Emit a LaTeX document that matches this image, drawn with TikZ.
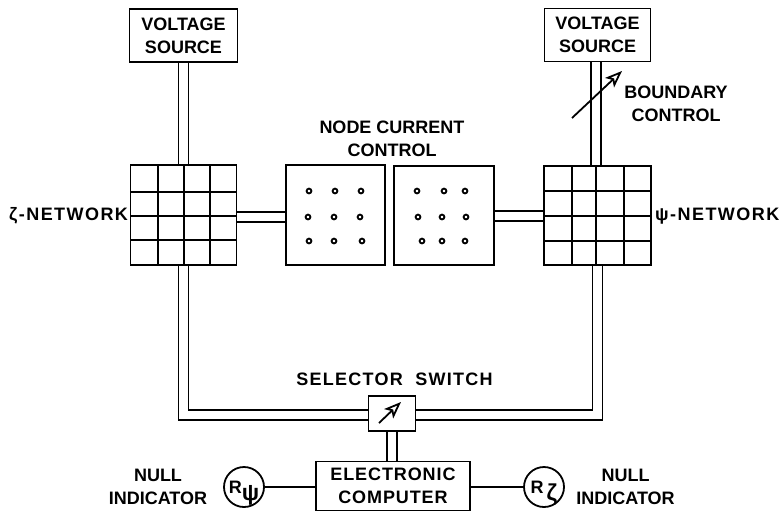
\documentclass[tikz,border=0pt]{standalone}
\usepackage{fontspec}
\setmainfont{Liberation Sans}
\usetikzlibrary{arrows.meta}
\tikzset{block/.style={draw,line width=1.8pt,inner sep=0pt,align=center,font=\labelfont}}
\tikzset{label/.style={inner sep=0pt,align=center,font=\labelfont}}
\tikzset{bus/.style={double,double distance=8.2pt,line width=1.8pt}}
\tikzset{wire/.style={line width=1.8pt}}
\tikzset{pointer/.style={line width=1.8pt,-{Stealth[open,length=17pt,width=13pt,inset=4pt]}}}
\tikzset{meter/.style={draw,circle,line width=1.8pt,inner sep=0pt,minimum size=40pt,font=\labelfont}}
\newcommand{\labelfont}{\fontsize{18}{23}\selectfont\bfseries}
\newcommand{\greekdrop}[1]{\smash{\raisebox{-7pt}{\fontsize{23}{23}\selectfont #1}}}

\begin{document}
\begin{tikzpicture}[x=1pt,y=-1pt]
	\useasboundingbox (0,0) rectangle (781,512);

	% Blocks
	\node [block,minimum width=108pt,minimum height=53pt] (lsource) at (183.5,35.5) {VOLTAGE\\SOURCE};
	\node [block,minimum width=106pt,minimum height=53pt] (rsource) at (597.5,35) {VOLTAGE\\SOURCE};
	\node [block,minimum width=106pt,minimum height=100pt] (znet) at (183.5,215) {};
	\node [block,minimum width=107pt,minimum height=99pt] (pnet) at (597.5,215.5) {};
	\node [block,minimum width=99pt,minimum height=100pt] (lcontrol) at (335.5,215) {};
	\node [block,minimum width=100pt,minimum height=99pt] (rcontrol) at (444,215.5) {};
	\node [block,minimum width=47pt,minimum height=35pt] (switch) at (392,413.5) {};
	\node [block,minimum width=154pt,minimum height=49pt] (computer) at (393,486) {\addfontfeatures{LetterSpace=5}ELECTRONIC\\\addfontfeatures{LetterSpace=5}COMPUTER};
	\node [meter] (rpsi) at (244,487) {R\greekdrop{ψ}};
	\node [meter] (rzeta) at (544,487) {R\,\greekdrop{ζ}};

	% Grids of the two networks
	\foreach \x in {158,184,210}
		\draw [wire] (\x,165) -- (\x,265);
	\foreach \y in {192,216,240}
		\draw [wire] (131,\y) -- (237,\y);
	\foreach \x in {572,596,624}
		\draw [wire] (\x,166) -- (\x,265);
	\foreach \y in {191,216,241}
		\draw [wire] (544,\y) -- (651,\y);

	% Current nodes
	\foreach \x/\y in {309/191,335/191,361/191,308/217,334/217,360/217,309/241,334/241,362/241,
		417/191,444/191,465/191,418/217,442/217,466/217,422/241,442/241,465/241}
		\draw [line width=1.8pt] (\x,\y) circle (2.4);

	% Double lines
	\draw [bus] (lsource.south) -- (znet.north);
	\draw [bus] ([xshift=-1.5pt]rsource.south) -- ([xshift=-1.5pt]pnet.north);
	\draw [bus] ([yshift=-2pt]znet.east) -- ([yshift=-2pt]znet.east -| lcontrol.west);
	\draw [bus] ([yshift=-0.5pt]rcontrol.east) -- ([yshift=-0.5pt]rcontrol.east -| pnet.west);
	\draw [bus] (znet.south) |- ([yshift=-1.5pt]switch.west);
	\draw [bus] (pnet.south) |- ([yshift=-1.5pt]switch.east);
	\draw [bus] (switch.south) -- (switch.south |- computer.north);

	% Indicators
	\draw [wire] (rpsi) -- (rpsi -| computer.west);
	\draw [wire] (rzeta) -- (rzeta -| computer.east);

	% Adjustable controls
	\coordinate (btail) at (572,118);
	\coordinate (bhead) at (622,71);
	\draw [pointer] (btail) -- (bhead);
	\coordinate (stail) at (379,423);
	\coordinate (shead) at (401,402);
	\draw [pointer] (stail) -- (shead);

	% Texts
	\node [label] (ccontrol) at (392,139) {NODE CURRENT\\CONTROL};
	\node [label] (bcontrol) at (676,104) {BOUNDARY\\CONTROL};
	\node [label] (sswitch) at (394.5,379) {\addfontfeatures{LetterSpace=7}SELECTOR\ \ SWITCH};
	\node [label,anchor=west] (zlabel) at (9,216) {\addfontfeatures{LetterSpace=8}ζ-NETWORK};
	\node [label,anchor=west] (plabel) at (655,216) {\addfontfeatures{LetterSpace=8}ψ-NETWORK};
	\node [label] (lnull) at (158,487) {NULL\\INDICATOR};
	\node [label] (rnull) at (625.5,486.5) {NULL\\INDICATOR};
\end{tikzpicture}
\end{document}
